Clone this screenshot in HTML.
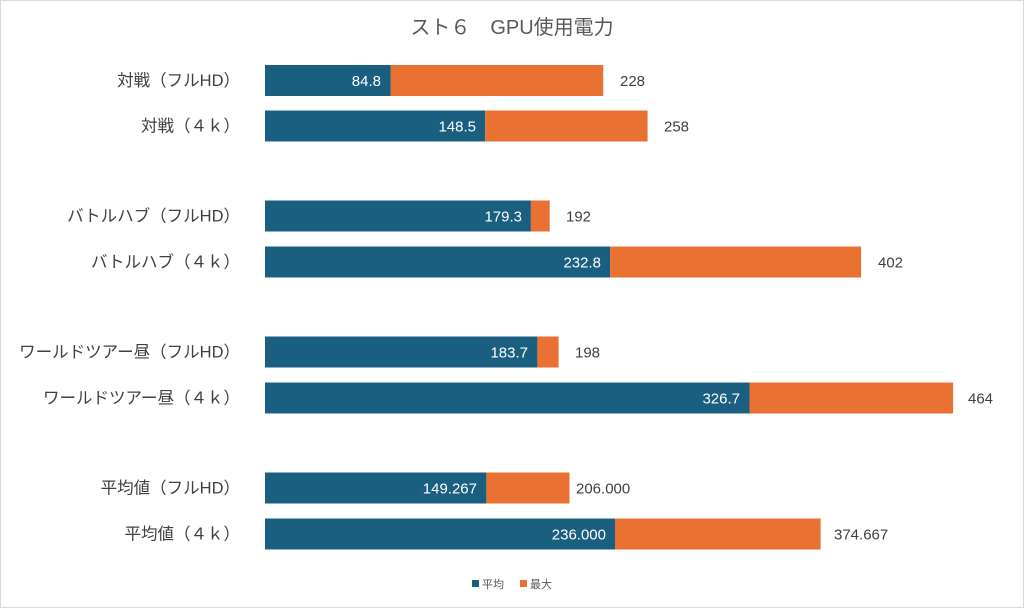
<!DOCTYPE html>
<html><head><meta charset="utf-8"><style>
html,body{margin:0;padding:0;background:#fff}
svg{display:block}
text{font-family:"Liberation Sans","Noto Sans CJK JP",sans-serif}
</style></head><body>
<svg width="1024" height="608" xmlns="http://www.w3.org/2000/svg">
<rect x="0.5" y="0.5" width="1023" height="607" fill="#fff" stroke="#d9d9d9"/>
<text x="512" y="34" text-anchor="middle" font-size="20" fill="#595959">スト６　GPU使用電力</text>
<g font-size="15">
<rect x="265" y="65" width="125.8" height="31" fill="#1a5e80"/><rect x="390.8" y="65" width="212.4" height="31" fill="#e97132"/>
<text x="240" y="86" text-anchor="end" fill="#404040" font-size="16.5">対戦（フルHD）</text><text x="381" y="86" text-anchor="end" fill="#fff">84.8</text><text x="620" y="86" fill="#404040">228</text>

<rect x="265" y="110.5" width="220.2" height="31" fill="#1a5e80"/><rect x="485.2" y="110.5" width="162.4" height="31" fill="#e97132"/>
<text x="240" y="131.5" text-anchor="end" fill="#404040" font-size="16.5">対戦（４ｋ）</text><text x="476" y="131.5" text-anchor="end" fill="#fff">148.5</text><text x="664" y="131.5" fill="#404040">258</text>

<rect x="265" y="200.5" width="265.9" height="31" fill="#1a5e80"/><rect x="530.9" y="200.5" width="18.8" height="31" fill="#e97132"/>
<text x="240" y="221.5" text-anchor="end" fill="#404040" font-size="16.5">バトルハブ（フルHD）</text><text x="522" y="221.5" text-anchor="end" fill="#fff">179.3</text><text x="566" y="221.5" fill="#404040">192</text>

<rect x="265" y="246.5" width="345.2" height="31" fill="#1a5e80"/><rect x="610.2" y="246.5" width="250.9" height="31" fill="#e97132"/>
<text x="240" y="267.5" text-anchor="end" fill="#404040" font-size="16.5">バトルハブ（４ｋ）</text><text x="601" y="267.5" text-anchor="end" fill="#fff">232.8</text><text x="878" y="267.5" fill="#404040">402</text>

<rect x="265" y="336.5" width="272.4" height="31" fill="#1a5e80"/><rect x="537.4" y="336.5" width="21.2" height="31" fill="#e97132"/>
<text x="240" y="357.5" text-anchor="end" fill="#404040" font-size="16.5">ワールドツアー昼（フルHD）</text><text x="528" y="357.5" text-anchor="end" fill="#fff">183.7</text><text x="575" y="357.5" fill="#404040">198</text>

<rect x="265" y="382.5" width="484.5" height="31" fill="#1a5e80"/><rect x="749.5" y="382.5" width="203.6" height="31" fill="#e97132"/>
<text x="240" y="403.5" text-anchor="end" fill="#404040" font-size="16.5">ワールドツアー昼（４ｋ）</text><text x="740" y="403.5" text-anchor="end" fill="#fff">326.7</text><text x="968" y="403.5" fill="#404040">464</text>

<rect x="265" y="472.5" width="221.4" height="31" fill="#1a5e80"/><rect x="486.4" y="472.5" width="83.1" height="31" fill="#e97132"/>
<text x="240" y="493.5" text-anchor="end" fill="#404040" font-size="16.5">平均値（フルHD）</text><text x="477" y="493.5" text-anchor="end" fill="#fff">149.267</text><text x="576" y="493.5" fill="#404040">206.000</text>

<rect x="265" y="518.5" width="350" height="31" fill="#1a5e80"/><rect x="615" y="518.5" width="205.6" height="31" fill="#e97132"/>
<text x="240" y="539.5" text-anchor="end" fill="#404040" font-size="16.5">平均値（４ｋ）</text><text x="606" y="539.5" text-anchor="end" fill="#fff">236.000</text><text x="834" y="539.5" fill="#404040">374.667</text>
</g>
<rect x="472" y="580" width="7" height="7" fill="#1a5e80"/>
<text x="482" y="588" font-size="11" fill="#595959">平均</text>
<rect x="520" y="580" width="7" height="7" fill="#e97132"/>
<text x="530" y="588" font-size="11" fill="#595959">最大</text>
</svg>
</body></html>
